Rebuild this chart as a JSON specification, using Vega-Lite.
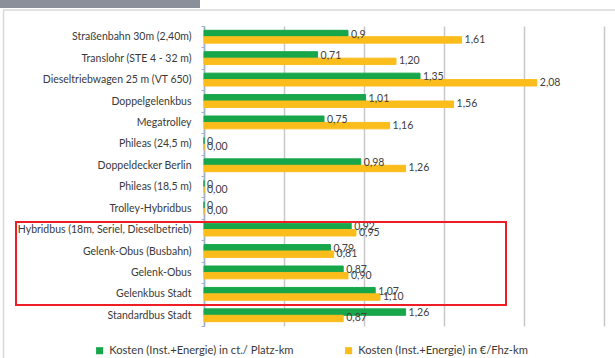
{
  "$schema": "https://vega.github.io/schema/vega-lite/v6.json",
  "width": 400,
  "height": 300,
  "autosize": {"type": "none"},
  "padding": {"left": 204, "top": 26, "right": 11, "bottom": 32},
  "background": "white",
  "config": {
    "view": {"stroke": null},
    "font": "Lato",
    "locale": {"number": {"decimal": ",", "thousands": ".", "grouping": [3], "currency": ["", " €"]}}
  },
  "layer": [
    {
      "data": {
        "values": [
          {"fahrzeug": "Straßenbahn 30m  (2,40m)", "serie": "Kosten (Inst.+Energie) in ct./ Platz-km", "wert": 0.9},
          {"fahrzeug": "Straßenbahn 30m  (2,40m)", "serie": "Kosten (Inst.+Energie) in €/Fhz-km", "wert": 1.61},
          {"fahrzeug": "Translohr (STE 4 - 32 m)", "serie": "Kosten (Inst.+Energie) in ct./ Platz-km", "wert": 0.71},
          {"fahrzeug": "Translohr (STE 4 - 32 m)", "serie": "Kosten (Inst.+Energie) in €/Fhz-km", "wert": 1.2},
          {"fahrzeug": "Dieseltriebwagen 25 m (VT 650)", "serie": "Kosten (Inst.+Energie) in ct./ Platz-km", "wert": 1.35},
          {"fahrzeug": "Dieseltriebwagen 25 m (VT 650)", "serie": "Kosten (Inst.+Energie) in €/Fhz-km", "wert": 2.08},
          {"fahrzeug": "Doppelgelenkbus", "serie": "Kosten (Inst.+Energie) in ct./ Platz-km", "wert": 1.01},
          {"fahrzeug": "Doppelgelenkbus", "serie": "Kosten (Inst.+Energie) in €/Fhz-km", "wert": 1.56},
          {"fahrzeug": "Megatrolley", "serie": "Kosten (Inst.+Energie) in ct./ Platz-km", "wert": 0.75},
          {"fahrzeug": "Megatrolley", "serie": "Kosten (Inst.+Energie) in €/Fhz-km", "wert": 1.16},
          {"fahrzeug": "Phileas (24,5 m)", "serie": "Kosten (Inst.+Energie) in ct./ Platz-km", "wert": 0},
          {"fahrzeug": "Phileas (24,5 m)", "serie": "Kosten (Inst.+Energie) in €/Fhz-km", "wert": 0},
          {"fahrzeug": "Doppeldecker Berlin", "serie": "Kosten (Inst.+Energie) in ct./ Platz-km", "wert": 0.98},
          {"fahrzeug": "Doppeldecker Berlin", "serie": "Kosten (Inst.+Energie) in €/Fhz-km", "wert": 1.26},
          {"fahrzeug": "Phileas (18,5 m)", "serie": "Kosten (Inst.+Energie) in ct./ Platz-km", "wert": 0},
          {"fahrzeug": "Phileas (18,5 m)", "serie": "Kosten (Inst.+Energie) in €/Fhz-km", "wert": 0},
          {"fahrzeug": "Trolley-Hybridbus", "serie": "Kosten (Inst.+Energie) in ct./ Platz-km", "wert": 0},
          {"fahrzeug": "Trolley-Hybridbus", "serie": "Kosten (Inst.+Energie) in €/Fhz-km", "wert": 0},
          {"fahrzeug": "Hybridbus (18m, Seriel, Dieselbetrieb)", "serie": "Kosten (Inst.+Energie) in ct./ Platz-km", "wert": 0.92},
          {"fahrzeug": "Hybridbus (18m, Seriel, Dieselbetrieb)", "serie": "Kosten (Inst.+Energie) in €/Fhz-km", "wert": 0.95},
          {"fahrzeug": "Gelenk-Obus (Busbahn)", "serie": "Kosten (Inst.+Energie) in ct./ Platz-km", "wert": 0.79},
          {"fahrzeug": "Gelenk-Obus (Busbahn)", "serie": "Kosten (Inst.+Energie) in €/Fhz-km", "wert": 0.81},
          {"fahrzeug": "Gelenk-Obus", "serie": "Kosten (Inst.+Energie) in ct./ Platz-km", "wert": 0.87},
          {"fahrzeug": "Gelenk-Obus", "serie": "Kosten (Inst.+Energie) in €/Fhz-km", "wert": 0.9},
          {"fahrzeug": "Gelenkbus Stadt", "serie": "Kosten (Inst.+Energie) in ct./ Platz-km", "wert": 1.07},
          {"fahrzeug": "Gelenkbus Stadt", "serie": "Kosten (Inst.+Energie) in €/Fhz-km", "wert": 1.1},
          {"fahrzeug": "Standardbus Stadt", "serie": "Kosten (Inst.+Energie) in ct./ Platz-km", "wert": 1.26},
          {"fahrzeug": "Standardbus Stadt", "serie": "Kosten (Inst.+Energie) in €/Fhz-km", "wert": 0.87}
        ]
      },
      "encoding": {
        "y": {
          "field": "fahrzeug",
          "type": "nominal",
          "sort": null,
          "scale": {"paddingInner": 0, "paddingOuter": 0},
          "axis": {
            "title": null,
            "domainColor": "#9fb0cc",
            "domainWidth": 1.5,
            "tickColor": "#9fb0cc",
            "tickBand": "extent",
            "tickSize": 3,
            "labelFont": "Lato",
            "labelFontSize": 10.5,
            "labelColor": "#3a3a3a",
            "labelPadding": 10,
            "labelLimit": 200
          }
        },
        "yOffset": {
          "field": "serie",
          "type": "nominal",
          "sort": ["Kosten (Inst.+Energie) in ct./ Platz-km", "Kosten (Inst.+Energie) in €/Fhz-km"],
          "scale": {"paddingInner": 0, "paddingOuter": 0.67}
        }
      },
      "layer": [
        {
          "mark": {"type": "bar", "strokeWidth": 1},
          "encoding": {
            "x": {
              "field": "wert",
              "type": "quantitative",
              "scale": {"domain": [0, 2.5], "nice": false},
              "axis": {
                "title": null,
                "values": [0, 0.5, 1, 1.5, 2, 2.5],
                "labels": false,
                "ticks": false,
                "domain": false,
                "grid": true,
                "gridColor": "#c8c8c8",
                "gridWidth": 1.5
              }
            },
            "color": {
              "field": "serie",
              "type": "nominal",
              "sort": ["Kosten (Inst.+Energie) in ct./ Platz-km", "Kosten (Inst.+Energie) in €/Fhz-km"],
              "scale": {
                "domain": ["Kosten (Inst.+Energie) in ct./ Platz-km", "Kosten (Inst.+Energie) in €/Fhz-km"],
                "range": ["#17a64a", "#fbbd1c"]
              },
              "legend": {
                "title": null,
                "orient": "none",
                "legendX": -110,
                "legendY": 319,
                "direction": "horizontal",
                "columns": 2,
                "columnPadding": 49,
                "symbolType": "square",
                "symbolSize": 50,
                "symbolStrokeWidth": 0,
                "labelFont": "Lato",
                "labelFontSize": 11.2,
                "labelColor": "#3a3a3a",
                "labelLimit": 300
              }
            },
            "stroke": {
              "field": "serie",
              "type": "nominal",
              "scale": {
                "domain": ["Kosten (Inst.+Energie) in ct./ Platz-km", "Kosten (Inst.+Energie) in €/Fhz-km"],
                "range": ["#17a64a", "#fbbd1c"]
              },
              "legend": null
            }
          }
        },
        {
          "transform": [{"filter": "datum.serie === 'Kosten (Inst.+Energie) in ct./ Platz-km'"}],
          "mark": {"type": "text", "align": "left", "baseline": "middle", "dx": 3, "dy": 1, "font": "Lato", "fontSize": 10.5, "color": "#404040"},
          "encoding": {
            "x": {"field": "wert", "type": "quantitative"},
            "text": {"field": "wert", "type": "quantitative", "format": "~g"}
          }
        },
        {
          "transform": [{"filter": "datum.serie === 'Kosten (Inst.+Energie) in €/Fhz-km'"}],
          "mark": {"type": "text", "align": "left", "baseline": "middle", "dx": 3, "dy": 0, "font": "Lato", "fontSize": 10.5, "color": "#404040"},
          "encoding": {
            "x": {"field": "wert", "type": "quantitative"},
            "text": {"field": "wert", "type": "quantitative", "format": ".2f"}
          }
        }
      ]
    },
    {
      "data": {
        "values": [
          {"teil": "rahmen", "x0": -1.253, "x1": 2.6, "y0": -1.82, "y1": 14.747},
          {"teil": "reiter", "x0": -1.3, "x1": -0.025, "y0": 14.84, "y1": 15.3},
          {"teil": "markierung", "x0": -1.175, "x1": 1.8875, "y0": 0.98, "y1": 4.853}
        ]
      },
      "encoding": {
        "x": {"field": "x0", "type": "quantitative"},
        "x2": {"field": "x1"},
        "y": {"field": "y0", "type": "quantitative", "scale": {"domain": [0, 14], "nice": false, "zero": false}, "axis": null},
        "y2": {"field": "y1"}
      },
      "layer": [
        {
          "transform": [{"filter": "datum.teil === 'rahmen'"}],
          "mark": {"type": "rect", "clip": false, "fill": null, "fillOpacity": 0, "stroke": "#d9d9d9", "strokeWidth": 1.5}
        },
        {
          "transform": [{"filter": "datum.teil === 'reiter'"}],
          "mark": {"type": "rect", "clip": false, "fill": "#8b8f99", "strokeWidth": 0}
        },
        {
          "transform": [{"filter": "datum.teil === 'markierung'"}],
          "mark": {"type": "rect", "clip": false, "fill": null, "fillOpacity": 0, "stroke": "#ee1c25", "strokeWidth": 2}
        }
      ]
    }
  ],
  "resolve": {"scale": {"y": "independent"}}
}
